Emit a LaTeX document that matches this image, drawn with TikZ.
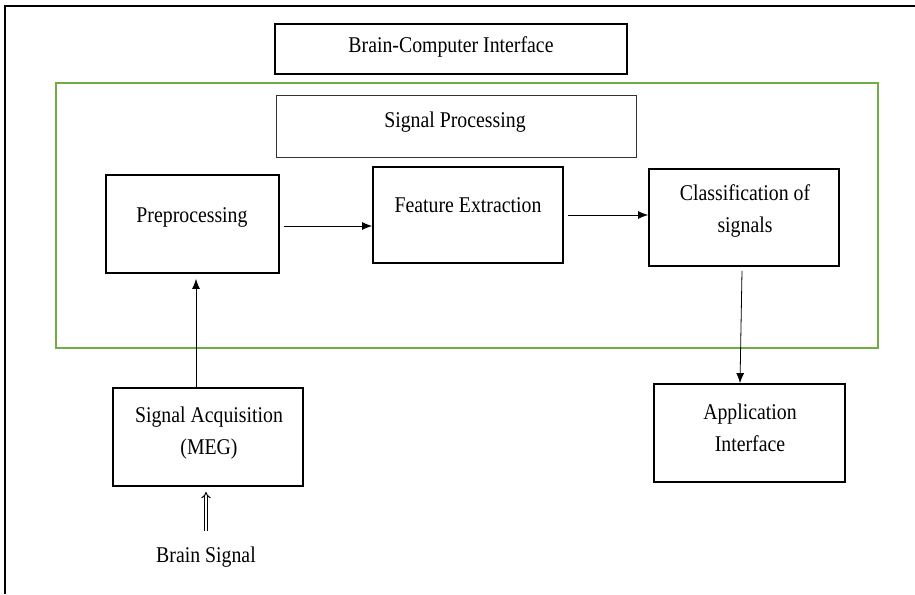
\documentclass[tikz,border=0pt]{standalone}
\usepackage{fontspec}
\setmainfont{Liberation Serif}[FakeStretch=0.88]
\usetikzlibrary{arrows.meta,calc}
\definecolor{framegreen}{RGB}{112,173,71}
\begin{document}
\begin{tikzpicture}[x=1pt,y=-1pt,
  box/.style={draw=black, line width=1.8pt, inner sep=0pt},
  thinbox/.style={draw=black, line width=1.1pt, inner sep=0pt},
  txt/.style={inner sep=0pt, align=center, font=\fontsize{22.5}{32}\selectfont},
  arr/.style={line width=0.8pt, -{Latex[length=10pt,width=8pt]}},
  dbl/.style={double, double distance=2.2pt, line width=1pt, -{Implies[length=7pt]}}
]
\useasboundingbox (0,0) rectangle (915,594);
% outer frame (top and left only visible)
\draw[line width=2pt] (5,594) -- (5,6) -- (915,6);
% green signal-processing frame
\draw[framegreen, line width=2.6pt] (56,83) rectangle (878,348);

% boxes
\node[thinbox, minimum width=352pt, minimum height=50pt] (bci) at (451,49) {};
\node[txt] (bcit) at (451,47) {Brain-Computer Interface};

\node[draw=black!80, line width=0.9pt, inner sep=0pt, minimum width=360pt, minimum height=62pt] (sp) at (456,126) {};
\node[txt] (spt) at (455,122) {Signal Processing};

\node[box, minimum width=173pt, minimum height=98pt] (pre) at (192.5,224) {};
\node[txt] (pret) at (192,217) {Preprocessing};

\node[box, minimum width=190pt, minimum height=96pt] (fe) at (468,215) {};
\node[txt] (fet) at (468,205) {Feature Extraction};

\node[box, minimum width=190pt, minimum height=97pt] (cls) at (744,217.5) {};
\node[txt] (clst) at (745,211) {Classification of\\signals};

\node[box, minimum width=190pt, minimum height=98pt] (sa) at (208,437) {};
\node[txt] (sat) at (209,433.5) {Signal Acquisition\\(MEG)};

\node[box, minimum width=191pt, minimum height=98pt] (app) at (749.5,433) {};
\node[txt] (appt) at (750,427.5) {Application\\Interface};

\node[txt] (bs) at (206,557) {Brain Signal};

% connectors
\coordinate (p1) at ([xshift=4pt,yshift=-2pt]pre.east);
\draw[arr] (p1) -- (fe.west |- p1);
\coordinate (f1) at ([xshift=4pt]fe.east);
\draw[arr] (f1) -- (cls.west |- f1);
\coordinate (s1) at ([xshift=-12pt]sa.north);
\draw[arr] (s1) -- ([yshift=-5pt]pre.south -| s1);
\draw[arr] ([xshift=-2pt,yshift=-4pt]cls.south) -- ([xshift=-9.5pt]app.north);
\coordinate (b1) at ([yshift=16pt]bs.north);
\draw[dbl] (b1) -- ([yshift=-5pt]sa.south -| b1);
\end{tikzpicture}
\end{document}
